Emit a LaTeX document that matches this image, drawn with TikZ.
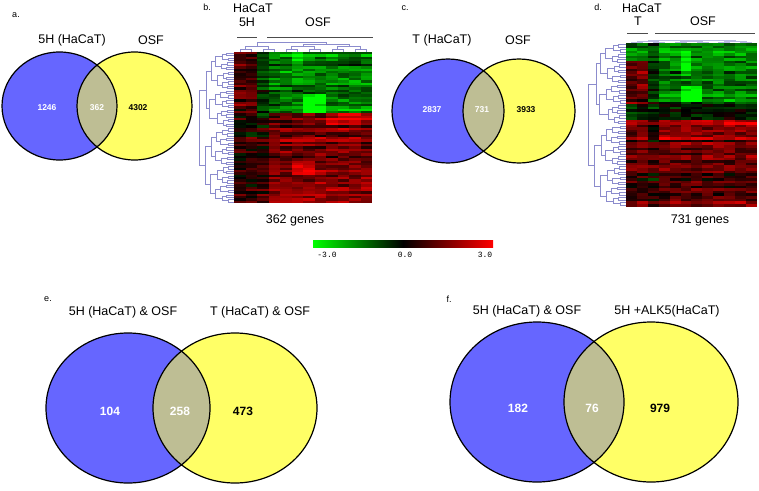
\documentclass[tikz,border=0pt]{standalone}
\usepackage{fontspec}
\setmainfont{Liberation Sans}
\newfontfamily\monof{Liberation Mono}
\begin{document}
\begin{tikzpicture}[x=1pt,y=-1pt]
\definecolor{vblue}{RGB}{102,102,255}
\definecolor{vyel}{RGB}{255,255,102}
\definecolor{vmid}{RGB}{190,190,148}
\definecolor{dendc}{RGB}{140,140,205}
\tikzset{
  ttl/.style={font=\fontsize{12.5}{14}\selectfont, inner sep=0pt},
  plab/.style={font=\fontsize{9}{10}\selectfont, inner sep=0pt},
  nsmall/.style={font=\fontsize{8.5}{10}\selectfont\bfseries, inner sep=0pt},
  nbig/.style={font=\fontsize{12}{14}\selectfont\bfseries, inner sep=0pt},
  vline/.style={line width=1.2pt, black},
  dendro/.style={dendc, line width=0.45pt},
  grpline/.style={line width=0.8pt, black!70},
  mono/.style={font=\monof\fontsize{8}{9}\selectfont, inner sep=0pt}
}
\useasboundingbox (0,0) rectangle (759,490);
\fill[white] (0,0) rectangle (759,490);

% ---------- Venn macro ----------
\newcommand\myvenn[7]{% #1 xL, #2 xR, #3 y, #4 rx, #5 ry
  \fill[vblue] (#1,#3) ellipse [x radius=#4pt, y radius=#5pt];
  \fill[vyel] (#2,#3) ellipse [x radius=#4pt, y radius=#5pt];
  \begin{scope}
    \clip (#1,#3) ellipse [x radius=#4pt, y radius=#5pt];
    \fill[vmid] (#2,#3) ellipse [x radius=#4pt, y radius=#5pt];
  \end{scope}
  \draw[vline] (#1,#3) ellipse [x radius=#4pt, y radius=#5pt];
  \draw[vline] (#2,#3) ellipse [x radius=#4pt, y radius=#5pt];
}

% ---------- panel a ----------
\node[plab] (la) at (16,15) {a.};
\myvenn{59.5}{134.5}{106}{57.5}{54}{}{}
\node[ttl] (ta1) at (72,40) {5H (HaCaT)};
\node[ttl] (ta2) at (151,40) {OSF};
\node[nsmall, white] (na1) at (47,108) {1246};
\node[nsmall, white] (na2) at (97,108) {362};
\node[nsmall, black] (na3) at (138,108) {4302};

% ---------- panel c ----------
\node[plab] (lc) at (405,8) {c.};
\myvenn{448}{519}{111}{56}{52}{}{}
\node[ttl] (tc1) at (442,40) {T (HaCaT)};
\node[ttl] (tc2) at (518,40) {OSF};
\node[nsmall, white] (nc1) at (432,110) {2837};
\node[nsmall, white] (nc2) at (482,110) {731};
\node[nsmall, black] (nc3) at (526,110) {3933};

% ---------- panel e ----------
\node[plab] (le) at (48,299) {e.};
\myvenn{128}{235}{408}{82}{75}{}{}
\node[ttl] (te1) at (123,312) {5H (HaCaT) \& OSF};
\node[ttl] (te2) at (260,312) {T (HaCaT) \& OSF};
\node[nbig, white] (ne1) at (110,411) {104};
\node[nbig, white] (ne2) at (180,411) {258};
\node[nbig, black] (ne3) at (243,411) {473};

% ---------- panel f ----------
\node[plab] (lf) at (449,299) {f.};
\myvenn{537}{651}{402}{87}{80}{}{}
\node[ttl] (tf1) at (527,311) {5H (HaCaT) \& OSF};
\node[ttl] (tf2) at (667,311) {5H +ALK5(HaCaT)};
\node[nbig, white] (nf1) at (518,408) {182};
\node[nbig, white] (nf2) at (592,408) {76};
\node[nbig, black] (nf3) at (660,408) {979};

% ---------- dendrogram macros ----------
\newcommand\leftdendro[4]{% #1 x right edge, #2 y top, #3 row height, #4 dx
  \foreach \lv in {1,...,6}{
    \pgfmathtruncatemacro{\nn}{64/2^\lv - 1}
    \foreach \kk in {0,...,\nn}{
      \pgfmathsetmacro{\ya}{#2 + #3*(\kk*2^\lv + 2^(\lv-1)/2)}
      \pgfmathsetmacro{\yb}{#2 + #3*(\kk*2^\lv + 2^(\lv-1) + 2^(\lv-1)/2)}
      \pgfmathsetmacro{\xp}{#1 - \lv*#4 - 0.45*#4*mod(\kk*7+\lv*3,5)/4}
      \pgfmathsetmacro{\xa}{\lv==1 ? #1 : #1-(\lv-1)*#4 - 0.45*#4*mod(2*\kk*7+(\lv-1)*3,5)/4}
      \pgfmathsetmacro{\xb}{\lv==1 ? #1 : #1-(\lv-1)*#4 - 0.45*#4*mod((2*\kk+1)*7+(\lv-1)*3,5)/4}
      \draw[dendro] (\xa,\ya) -- (\xp,\ya) -- (\xp,\yb) -- (\xb,\yb);
    }
  }
}
\newcommand\topdendro[5]{% #1 x0, #2 cw, #3 ybase, #4 scale, #5 color
  \foreach \pp in {0,...,5}{
    \draw[#5, line width=0.45pt] (#1+2*\pp*#2+0.5*#2,#3) |- (#1+2*\pp*#2+1.5*#2,#3-3*#4) -- (#1+2*\pp*#2+1.5*#2,#3);
  }
  \draw[#5, line width=0.45pt] (#1+1*#2,#3-3*#4) |- (#1+3*#2,#3-6*#4) -- (#1+3*#2,#3-3*#4);
  \draw[#5, line width=0.45pt] (#1+5*#2,#3-3*#4) |- (#1+7*#2,#3-6*#4) -- (#1+7*#2,#3-3*#4);
  \draw[#5, line width=0.45pt] (#1+9*#2,#3-3*#4) |- (#1+11*#2,#3-5.5*#4) -- (#1+11*#2,#3-3*#4);
  \draw[#5, line width=0.45pt] (#1+6*#2,#3-6*#4) |- (#1+10*#2,#3-8*#4) -- (#1+10*#2,#3-5.5*#4);
  \draw[#5, line width=0.45pt] (#1+2*#2,#3-6*#4) |- (#1+8*#2,#3-10*#4) -- (#1+8*#2,#3-8*#4);
}

% ---------- panel b heatmap ----------
\node[plab] (lb) at (207,7) {b.};
\node[ttl] (hb) at (253,8) {HaCaT};
\node[ttl] (hb1) at (247,22) {5H};
\node[ttl] (hb2) at (318,22) {OSF};
\coordinate (gb1a) at (237,37); \coordinate (gb1b) at (257,37);
\coordinate (gb2a) at (267,37); \coordinate (gb2b) at (373,37);
\draw[grpline] (gb1a) -- (gb1b);
\draw[grpline] (gb2a) -- (gb2b);
\pgfmathsetseed{4242}
\foreach \rr in {0,...,63}{
  \pgfmathsetmacro{\ro}{0.22*rand}
  \foreach \cc in {0,...,11}{
    \pgfmathsetmacro{\bs}{(\cc<2) ? ((\rr<27) ? 0.28 : 0.12) : ((\cc==2) ? ((\rr<27) ? -0.2 : 0.15) : ((\rr<26) ? -0.45 : 0.45))}
    \pgfmathsetmacro{\hs}{((\rr>=18) && (\rr<26) && (\cc>=6) && (\cc<=7)) ? -0.6 : (((\rr<6) && (\cc==5)) ? -0.45 : 0)}
    \pgfmathsetmacro{\rb}{((\rr>=26) && (\rr<31) && (\cc>=8)) ? 0.35 : (((\rr>=46) && (\rr<52) && (\cc>=5) && (\cc<=6)) ? 0.35 : 0)}
    \pgfmathsetmacro{\val}{\bs + \hs + \rb + \ro + 0.22*rand}
    \pgfmathsetmacro{\pc}{min(100,abs(\val)*105)}
    \ifdim \val pt<0pt \def\hue{green}\else\def\hue{red}\fi
    \fill[\hue!\pc!black] (234+\cc*11.5, 52+\rr*2.36) rectangle (234+\cc*11.5+11.8, 52+\rr*2.36+2.66);
  }
}
\leftdendro{234}{52}{2.36}{5.5}
\topdendro{234}{11.5}{52}{1}{dendc}
\node[ttl] (gb) at (295,220) {362 genes};

% ---------- panel d heatmap ----------
\node[plab] (ld) at (598,7) {d.};
\node[ttl] (hd) at (642,8) {HaCaT};
\node[ttl] (hd1) at (638,21) {T};
\node[ttl] (hd2) at (703,21) {OSF};
\coordinate (gd1a) at (627,33); \coordinate (gd1b) at (648,33);
\coordinate (gd2a) at (655,33); \coordinate (gd2b) at (755,33);
\draw[grpline] (gd1a) -- (gd1b);
\draw[grpline] (gd2a) -- (gd2b);
\pgfmathsetseed{777}
\foreach \rr in {0,...,63}{
  \pgfmathsetmacro{\ro}{0.22*rand}
  \foreach \cc in {0,...,11}{
    \pgfmathsetmacro{\bs}{(\cc<2) ? ((\rr<7) ? -0.3 : ((\rr<24) ? 0.35 : ((\rr<30) ? -0.1 : ((\rr<38) ? 0.5 : 0.3)))) : ((\cc==2) ? ((\rr<30) ? -0.15 : 0.15) : ((\rr<24) ? -0.45 : ((\rr<30) ? 0.0 : ((\rr<38) ? 0.65 : 0.35))))}
    \pgfmathsetmacro{\hs}{((\rr>=17) && (\rr<23) && (\cc>=5) && (\cc<=6)) ? -0.6 : (((\rr>=3) && (\rr<13) && (\cc==5)) ? -0.35 : 0)}
    \pgfmathsetmacro{\val}{\bs + \hs + \ro + 0.22*rand}
    \pgfmathsetmacro{\pc}{min(100,abs(\val)*105)}
    \ifdim \val pt<0pt \def\hue{green}\else\def\hue{red}\fi
    \fill[\hue!\pc!black] (626+\cc*10.9, 43+\rr*2.55) rectangle (626+\cc*10.9+11.2, 43+\rr*2.55+2.85);
  }
}
\leftdendro{626}{43}{2.55}{6}
\topdendro{626}{10.9}{43}{0.3}{dendc!60}
\node[ttl] (gd) at (700,220) {731 genes};

% ---------- colour bar ----------
\shade[left color=green, right color=red, middle color=black] (313,240) rectangle (493,247);
\node[mono] (cb1) at (327,255) {-3.0};
\node[mono] (cb2) at (405,255) {0.0};
\node[mono] (cb3) at (485,255) {3.0};
\end{tikzpicture}
\end{document}
